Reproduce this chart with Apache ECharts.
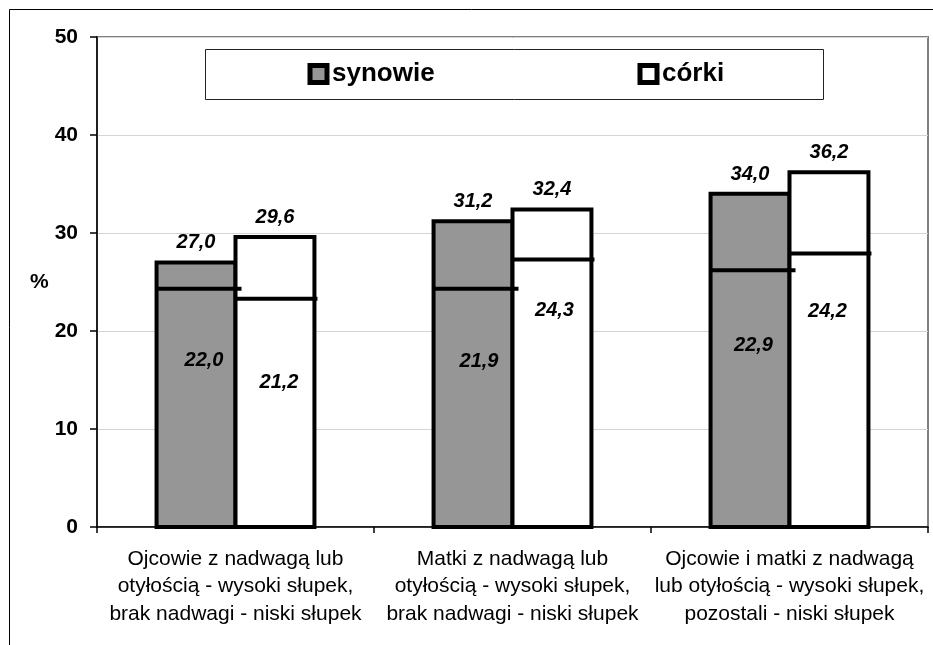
<!DOCTYPE html>
<html>
<head>
<meta charset="utf-8">
<script src="https://cdn.jsdelivr.net/npm/echarts@6/dist/echarts.min.js"></script>
<style>
html,body{margin:0;padding:0;background:#fff;}
#c{width:933px;height:645px;}
</style>
</head>
<body>
<div id="c"></div>
<script>
// ---- data ----
const categories = [
  'Ojcowie z nadwagą lub\notyłością - wysoki słupek,\nbrak nadwagi - niski słupek',
  'Matki z nadwagą lub\notyłością - wysoki słupek,\nbrak nadwagi - niski słupek',
  'Ojcowie i matki z nadwagą\nlub otyłością - wysoki słupek,\npozostali - niski słupek'
];
const seriesNames = ['synowie', 'córki'];
// tall bars
const synowie = [27.0, 31.2, 34.0];
const corki = [29.6, 32.4, 36.2];
// low values (labels) and the levels of the dividing lines as drawn in the picture
const synowieNiski = [22.0, 21.9, 22.9];
const corkiNiski = [21.2, 24.3, 24.2];
const synowieLinia = [24.3, 24.3, 26.2];
const corkiLinia = [23.3, 27.3, 27.9];
const yTicks = [0, 10, 20, 30, 40, 50];

// ---- style ----
const FONT = "'Liberation Sans', Arial, sans-serif";
const GAP = 0.43;
const COLORS = ['#969696', '#ffffff'];
const synowieLabelShift = [[8, 72], [6, 73], [3.5, 75.5]];
const corkiLabelShift = [[4, 84], [2.5, 51.5], [-1.5, 57.5]];
const fmt = v => Number(v).toFixed(1).replace('.', ',');
const LABEL_FONT = 'italic bold 20px ' + FONT;

function barGeom(api, idx, val, side) {
  const p = api.coord([idx, val]);
  const catW = api.size([1, 0])[0];
  const barW = catW * (1 - GAP) / 2;
  const x0 = side < 0 ? p[0] - barW : p[0];
  return { p, barW, x0 };
}

function barSeries(name, side, values, color) {
  return {
    name, type: 'custom', z: 3,
    itemStyle: { color, borderColor: '#000', borderWidth: 4 },
    data: values.map((v, i) => [i, v]),
    encode: { x: 0, y: 1 },
    renderItem: function (params, api) {
      const idx = api.value(0), v = api.value(1);
      const g = barGeom(api, idx, v, side);
      const base = api.coord([idx, 0]);
      return {
        type: 'group',
        children: [
          { type: 'rect', shape: { x: g.x0, y: g.p[1], width: g.barW, height: base[1] - g.p[1] },
            style: { fill: color, stroke: '#000', lineWidth: 4 } },
          { type: 'text', style: {
              x: g.x0 + g.barW / 2, y: g.p[1] - 19.5, text: fmt(v), fill: '#000',
              font: LABEL_FONT, align: 'center', verticalAlign: 'middle' } }
        ]
      };
    }
  };
}

function lowSeries(side, lines, labels, shifts, ext) {
  return {
    type: 'custom', z: 5,
    data: lines.map((v, i) => [i, v, labels[i]]),
    encode: { x: 0, y: 1 },
    renderItem: function (params, api) {
      const idx = api.value(0);
      const g = barGeom(api, idx, api.value(1), side);
      const sh = shifts[params.dataIndex];
      return {
        type: 'group',
        children: [
          { type: 'line', shape: { x1: g.x0, y1: g.p[1], x2: g.x0 + g.barW + ext, y2: g.p[1] },
            style: { stroke: '#000', lineWidth: 4 } },
          { type: 'text', style: {
              x: g.x0 + g.barW / 2 + sh[0], y: g.p[1] + sh[1],
              text: fmt(api.value(2)), fill: '#000', font: LABEL_FONT,
              align: 'center', verticalAlign: 'middle' } }
        ]
      };
    }
  };
}

function legendAt(i, left) {
  return {
    data: [{ name: seriesNames[i], itemStyle: { color: COLORS[i], borderColor: '#000', borderWidth: 5 } }],
    left, top: 61, padding: 0, itemWidth: 17, itemHeight: 17, itemGap: 0, icon: 'rect',
    textStyle: { fontFamily: FONT, fontSize: 26, fontWeight: 'bold', color: '#000' },
    selectedMode: false
  };
}

const chart = echarts.init(document.getElementById('c'), null, { renderer: 'canvas' });
chart.setOption({
  animation: false,
  backgroundColor: '#fff',
  textStyle: { fontFamily: FONT },
  graphic: [
    { type: 'rect', z: 0, silent: true,
      shape: { x: 9.5, y: 9.5, width: 1000, height: 1000 },
      style: { fill: 'none', stroke: '#000', lineWidth: 1 } },
    { type: 'rect', z: 1, silent: true,
      shape: { x: 205.5, y: 49.5, width: 618, height: 50 },
      style: { fill: '#fff', stroke: '#222', lineWidth: 1 } }
  ],
  legend: [legendAt(0, 307.5), legendAt(1, 637.5)],
  grid: { left: 97, right: 5, top: 37, bottom: 118, show: true, borderColor: '#808080', borderWidth: 2, backgroundColor: 'transparent' },
  xAxis: {
    type: 'category', data: categories,
    axisLine: { lineStyle: { color: '#000', width: 1.5 } },
    axisTick: { show: true, length: 6, lineStyle: { color: '#000', width: 1.5 } },
    axisLabel: { interval: 0, margin: 18, color: '#000', fontSize: 21, lineHeight: 27.5, fontFamily: FONT }
  },
  yAxis: {
    type: 'value', min: yTicks[0], max: yTicks[yTicks.length - 1], interval: 10,
    name: '%', nameLocation: 'middle', nameRotate: 0, nameGap: 48,
    nameTextStyle: { color: '#000', fontSize: 21, fontWeight: 'bold', fontFamily: FONT },
    axisLine: { show: true, lineStyle: { color: '#000', width: 1.5 } },
    axisTick: { show: true, length: 7, lineStyle: { color: '#000', width: 1.5 } },
    axisLabel: { margin: 19, color: '#000', fontSize: 21, fontWeight: 'bold', fontFamily: FONT },
    splitLine: { lineStyle: { color: '#d4d4d4', width: 1 } }
  },
  series: [
    barSeries(seriesNames[0], -1, synowie, COLORS[0]),
    barSeries(seriesNames[1], 1, corki, COLORS[1]),
    lowSeries(-1, synowieLinia, synowieNiski, synowieLabelShift, 6),
    lowSeries(1, corkiLinia, corkiNiski, corkiLabelShift, 3)
  ]
});
</script>
</body>
</html>
